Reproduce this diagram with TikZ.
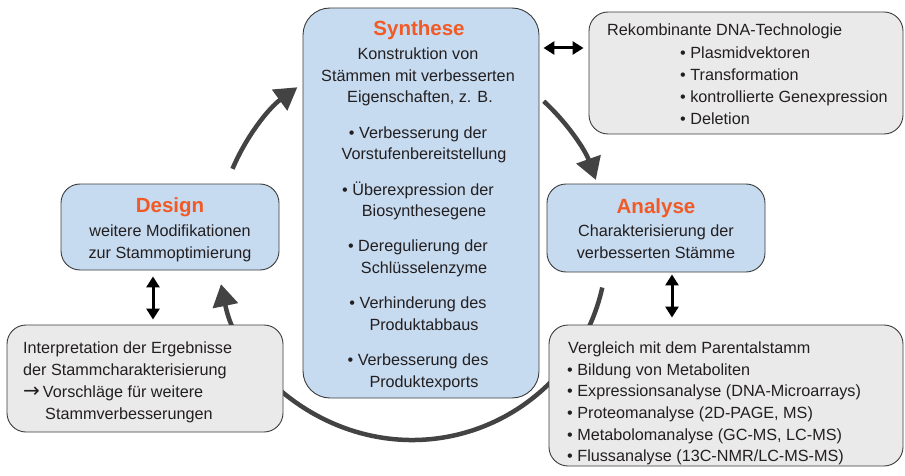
\documentclass[tikz,border=0pt]{standalone}
\usepackage{fontspec}
\setmainfont{Liberation Sans}
\newfontfamily\arrowfont{DejaVu Sans}
\usetikzlibrary{arrows.meta,calc}
\definecolor{boxblue}{HTML}{C6DAF0}
\definecolor{boxgray}{HTML}{EAEAEB}
\definecolor{edgec}{HTML}{3C3C3C}
\definecolor{headorange}{HTML}{F15A24}
\definecolor{txtc}{HTML}{231F20}
\definecolor{cycc}{HTML}{434343}
\begin{document}
\begin{tikzpicture}[x=1pt,y=-1pt,
  box/.style={draw=edgec, line width=0.9pt, rounded corners=19pt, inner sep=0pt},
  bluebox/.style={box, fill=boxblue},
  graybox/.style={box, fill=boxgray},
  txt/.style={text=txtc, font=\fontsize{16.2}{21.7}\selectfont, inner sep=0pt, anchor=base},
  txtl/.style={txt, anchor=base west},
  head/.style={text=headorange, font=\fontsize{20.5}{24}\selectfont\bfseries, inner sep=0pt, anchor=base},
  cyc/.style={draw=cycc, line width=4.5pt},
  cyctip/.style={-{Triangle[length=22pt,width=25pt]}},
  dbl/.style={draw=black, line width=3pt, {Triangle[length=11pt,width=13pt]}-{Triangle[length=11pt,width=13pt]}}
]
\useasboundingbox (0,0) rectangle (905,476);
\fill[white] (0,0) rectangle (905,476);

% cycle
\coordinate (C) at (412,245);
\draw[cyc, cyctip] ($(C)+(-157:195)$) arc[start angle=-157, end angle=-126, radius=195];
\draw[cyc, cyctip] ($(C)+(-47.5:195)$) arc[start angle=-47.5, end angle=-19.5, radius=195];
\draw[cyc, cyctip] ($(C)+(12.6:195)$) arc[start angle=12.6, end angle=168.4, radius=195];

% boxes
\node[bluebox, rounded corners=27pt, minimum width=236pt, minimum height=390pt] (syn) at (421,203) {};
\node[graybox, minimum width=314pt, minimum height=122pt] (rek) at (746,73) {};
\node[bluebox, minimum width=218pt, minimum height=88pt] (ana) at (656,228) {};
\node[graybox, minimum width=354pt, minimum height=141pt] (ver) at (726,395.5) {};
\node[bluebox, minimum width=218pt, minimum height=86pt] (des) at (170,227) {};
\node[graybox, minimum width=276pt, minimum height=107pt] (int) at (145,378.5) {};

% double arrows
\coordinate (ya) at (0,48);
\coordinate (xb) at (672,0);
\coordinate (xc) at (153,0);
\draw[dbl, shorten <=4pt, shorten >=5pt] (syn.east |- ya) -- (rek.west |- ya);
\draw[dbl, shorten <=2pt, shorten >=7pt] (ana.south -| xb) -- (ver.north -| xb);
\draw[dbl, shorten <=6pt, shorten >=5pt] (des.south -| xc) -- (int.north -| xc);

% Synthese text
\node[head] (synh) at (419,36) {Synthese};
\node[txt] (s1) at (418,59.3) {Konstruktion von};
\node[txt] (s2) at (418,81.3) {Stämmen mit verbesserten};
\node[txt] (s3) at (420,103) {Eigenschaften, z. B.};
\node[txt] (s4) at (418,138.3) {• Verbesserung der};
\node[txt] (s5) at (424,160) {Vorstufenbereitstellung};
\node[txt] (s6) at (418,195) {• Überexpression der};
\node[txt] (s7) at (424,216.7) {Biosynthesegene};
\node[txt] (s8) at (418,251.7) {• Deregulierung der};
\node[txt] (s9) at (424,273.3) {Schlüsselenzyme};
\node[txt] (s10) at (418,308.3) {• Verhinderung des};
\node[txt] (s11) at (424,330) {Produktabbaus};
\node[txt] (s12) at (418,365.5) {• Verbesserung des};
\node[txt] (s13) at (424,387) {Produktexports};

% Rekombinante text
\node[txtl] (r1) at (607,36) {Rekombinante DNA-Technologie};
\node[txtl] (r2) at (680,58.3) {• Plasmidvektoren};
\node[txtl] (r3) at (680,80.7) {• Transformation};
\node[txtl] (r4) at (680,102.9) {• kontrollierte Genexpression};
\node[txtl] (r5) at (680,125) {• Deletion};

% Analyse text
\node[head] (anah) at (656,213.3) {Analyse};
\node[txt] (a1) at (656,236.7) {Charakterisierung der};
\node[txt] (a2) at (656,258.3) {verbesserten Stämme};

% Vergleich text
\node[txtl] (v1) at (568,353.3) {Vergleich mit dem Parentalstamm};
\node[txtl] (v2) at (567,375) {• Bildung von Metaboliten};
\node[txtl] (v3) at (567,396.7) {• Expressionsanalyse (DNA-Microarrays)};
\node[txtl] (v4) at (567,418.4) {• Proteomanalyse (2D-PAGE, MS)};
\node[txtl] (v5) at (567,440.1) {• Metabolomanalyse (GC-MS, LC-MS)};
\node[txtl] (v6) at (567,461.8) {• Flussanalyse (13C-NMR/LC-MS-MS)};

% Design text
\node[head] (desh) at (170,212.7) {Design};
\node[txt] (d1) at (170,236.7) {weitere Modifikationen};
\node[txt] (d2) at (170,258.3) {zur Stammoptimierung};

% Interpretation text
\node[txtl] (i1) at (23,353.3) {Interpretation der Ergebnisse};
\node[txtl] (i2) at (23,375) {der Stammcharakterisierung};
\node[txtl] (i3) at (23,397) {\raisebox{-0.8pt}{\arrowfont\fontsize{20}{20}\selectfont →}\hspace{3pt}Vorschläge für weitere};
\node[txtl] (i4) at (45,419) {Stammverbesserungen};
\end{tikzpicture}
\end{document}
